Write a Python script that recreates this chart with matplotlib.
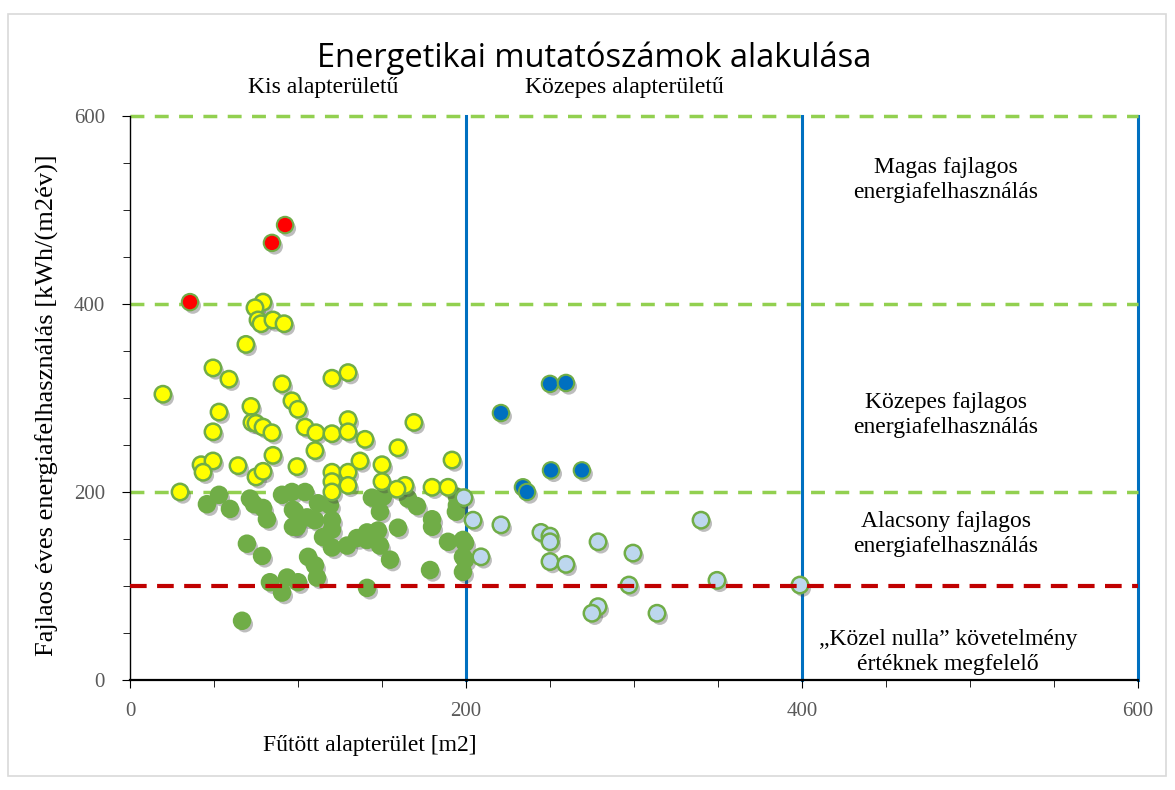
import matplotlib
matplotlib.use("Agg")
import matplotlib.pyplot as plt
import matplotlib.patheffects as pe
from matplotlib.patches import Rectangle
from matplotlib.ticker import MultipleLocator

# ---- data ----
red_x = [35.7, 84.5, 92.3]
red_y = [402, 465, 484]

yellow_x = [19.6, 29.8, 49.4, 58.9, 69.0, 53.0, 49.4, 42.3, 49.4, 43.5, 64.3, 72.0, 72.6,
            75.0, 79.2, 84.5, 75.0, 79.2, 85.1, 79.2, 74.4, 76.2, 78.0, 85.1, 91.7, 90.5,
            96.4, 100.0, 104.2, 99.4, 110.7, 120.2, 129.8, 120.2, 129.8, 129.8, 139.9,
            110.1, 120.2, 129.8, 136.9, 150.0, 159.5, 191.7, 120.2, 129.8, 120.2, 150.0,
            163.7, 158.9, 179.8, 189.3, 169.0]
yellow_y = [304, 200, 332, 320, 357, 285, 264, 229, 233, 221, 228, 291, 274,
            273, 269, 263, 216, 222, 239, 402, 396, 383, 379, 383, 379, 315,
            297, 288, 269, 227, 263, 321, 327, 262, 277, 264, 256,
            244, 221, 221, 233, 229, 247, 234, 211, 207, 200, 211,
            207, 203, 205, 205, 274]

green_x = [45.8, 53.0, 59.5, 71.4, 73.8, 79.2, 81.5, 90.5, 96.4, 97.0, 97.0, 69.6, 78.6,
           83.3, 93.5, 90.5, 66.7, 104.2, 111.9, 119.0, 98.2, 105.4, 110.1, 99.4, 120.2,
           120.2, 114.9, 120.2, 129.2, 135.1, 141.1, 147.6, 141.1, 148.8, 159.5, 154.8,
           106.0, 110.1, 111.3, 100.0, 141.1, 144.0, 150.6, 148.8, 165.5, 170.8, 179.8,
           179.8, 178.6, 189.3, 194.6, 198.2, 198.2, 198.2, 194.6, 194.0, 199.4, 199.4]
green_y = [187, 197, 182, 193, 187, 183, 171, 197, 200, 181, 163, 145, 132,
           104, 109, 93, 63, 200, 188, 186, 179, 173, 170, 163, 170,
           160, 152, 141, 143, 151, 157, 159, 149, 143, 162, 128,
           131, 122, 109, 104, 98, 194, 195, 179, 193, 185, 171,
           163, 117, 147, 186, 149, 131, 115, 195, 179, 146, 128]

dblue_x = [250.0, 259.5, 220.8, 250.6, 269.0, 233.9, 236.3]
dblue_y = [315, 316, 284, 223, 223, 205, 200]

lblue_x = [198.8, 204.2, 220.8, 244.6, 250.0, 250.0, 278.6, 299.4, 208.9, 250.0, 259.5,
           297.0, 349.4, 398.8, 339.9, 278.6, 275.0, 313.7]
lblue_y = [194, 170, 165, 157, 153, 147, 147, 135, 131, 126, 123,
           101, 106, 101, 170, 78, 71, 71]

size_limits = [200, 400, 600]       # vertical category borders
energy_limits = [200, 400, 600]     # green dashed lines
nzeb_limit = 100                    # red dashed line
x_ticks = [0, 200, 400, 600]
y_ticks = [0, 200, 400, 600]

# ---- figure ----
W, H = 1175, 790
fig = plt.figure(figsize=(W / 100, H / 100), dpi=100)
fig.patch.set_facecolor("white")
fig.add_artist(Rectangle((8 / W, 1 - 776 / H), (1166 - 8) / W, (776 - 14) / H,
                         transform=fig.transFigure, fill=False,
                         edgecolor="#D9D9D9", linewidth=1.2))

ax = fig.add_axes([130 / W, 1 - 680 / H, (1138 - 130) / W, (680 - 116) / H])
ax.set_xlim(0, 600)
ax.set_ylim(0, 600)

for v in size_limits:
    ax.axvline(v, color="#0070C0", lw=2.2, zorder=1, clip_on=False)
for v in energy_limits:
    ax.axhline(v, color="#92D050", lw=2.5, ls=(0, (4, 3)), zorder=1.5, clip_on=False)
ax.axhline(nzeb_limit, color="#C00000", lw=3, ls=(0, (4, 2.5)), zorder=5)

shadow = [pe.SimplePatchShadow(offset=(2, -2.5), shadow_rgbFace="#444444", alpha=0.35), pe.Normal()]
ms = 140
ax.scatter(green_x, green_y, s=ms, c="#70AD47", edgecolors="#70AD47", lw=1.5, zorder=2, path_effects=shadow)
ax.scatter(yellow_x, yellow_y, s=ms, c="#FFFF00", edgecolors="#70AD47", lw=1.8, zorder=3, path_effects=shadow)
ax.scatter(red_x, red_y, s=ms, c="#FF0000", edgecolors="#70AD47", lw=1.5, zorder=3, path_effects=shadow)
ax.scatter(lblue_x, lblue_y, s=ms, c="#BDD7EE", edgecolors="#70AD47", lw=1.8, zorder=3, path_effects=shadow)
ax.scatter(dblue_x, dblue_y, s=ms, c="#0070C0", edgecolors="#70AD47", lw=1.5, zorder=3, path_effects=shadow)

for s in ["top", "right"]:
    ax.spines[s].set_visible(False)
ax.spines["left"].set_color("black")
ax.spines["bottom"].set_color("black")
ax.spines["left"].set_linewidth(1.0)
ax.spines["bottom"].set_linewidth(1.6)

ax.set_xticks(x_ticks)
ax.set_yticks(y_ticks)
ax.xaxis.set_minor_locator(MultipleLocator(50))
ax.yaxis.set_minor_locator(MultipleLocator(50))
serif = "Liberation Serif"
ax.tick_params(axis="both", which="both", direction="out", color="black")
ax.tick_params(axis="both", which="major", length=6, labelsize=15, labelcolor="#595959")
ax.tick_params(axis="y", which="major", pad=12)
ax.tick_params(axis="x", which="major", pad=10)
ax.tick_params(axis="both", which="minor", length=5)
for lab in ax.get_xticklabels() + ax.get_yticklabels():
    lab.set_fontfamily(serif)

fig.text(47 / W, 1 - 405 / H, "Fajlaos éves energiafelhasználás [kWh/(m2év)]", fontfamily=serif,
         fontsize=19, rotation=90, ha="center", va="center")
fig.text(370 / W, 1 - 745 / H, "Fűtött alapterület [m2]", fontfamily=serif, fontsize=17,
         ha="center", va="center")

fig.text(594 / W, 1 - 58 / H, "Energetikai mutatószámok alakulása", fontfamily="Open Sans",
         fontsize=23.5, ha="center", va="center")

fig.text(323 / W, 1 - 88 / H, "Kis alapterületű", fontfamily=serif, fontsize=17, ha="center", va="center")
fig.text(624 / W, 1 - 88 / H, "Közepes alapterületű", fontfamily=serif, fontsize=17, ha="center", va="center")

tk = dict(fontfamily=serif, fontsize=17, ha="center", va="center", linespacing=1.2)
fig.text(946 / W, 1 - 180 / H, "Magas fajlagos\nenergiafelhasználás", **tk)
fig.text(946 / W, 1 - 415 / H, "Közepes fajlagos\nenergiafelhasználás", **tk)
fig.text(946 / W, 1 - 534 / H, "Alacsony fajlagos\nenergiafelhasználás", **tk)
fig.text(948 / W, 1 - 652 / H, "„Közel nulla” követelmény\nértéknek megfelelő", **tk)

fig.savefig("out.png", dpi=100)
